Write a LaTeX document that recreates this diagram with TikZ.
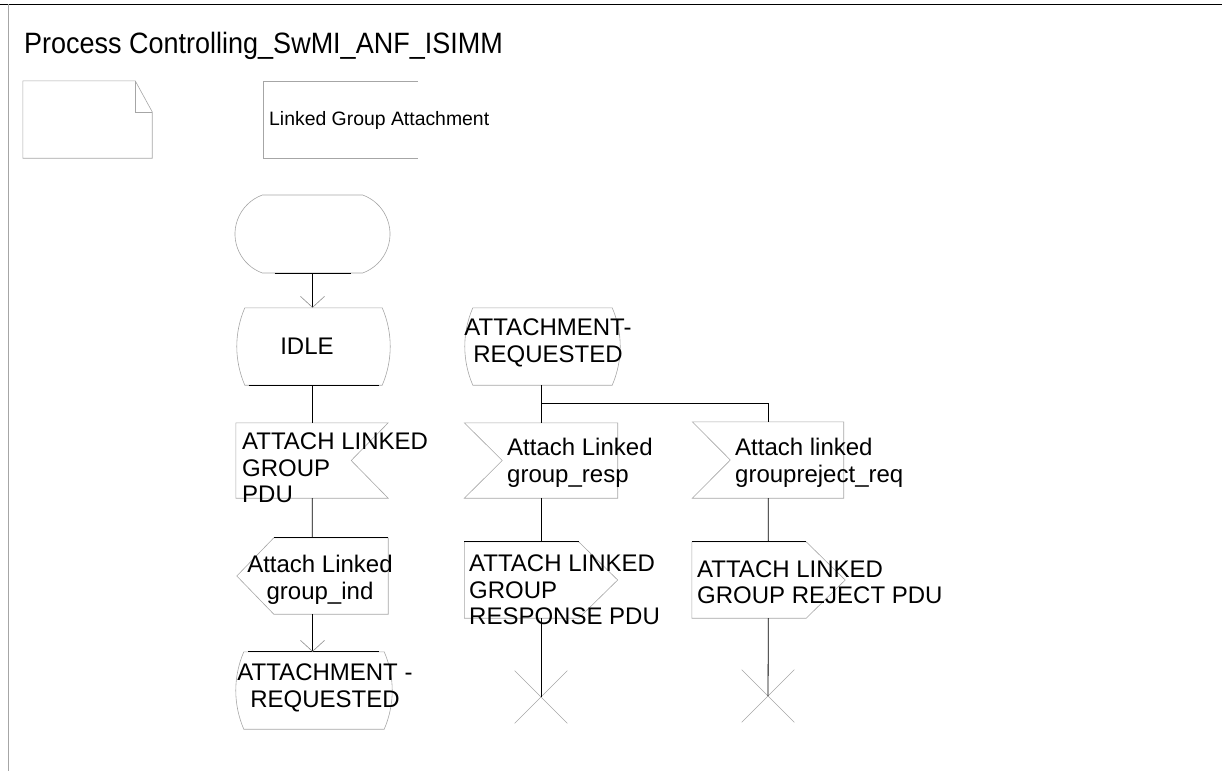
\documentclass[tikz,border=0pt]{standalone}
\usepackage{fontspec}
\setmainfont{Liberation Sans}
\usetikzlibrary{shapes.misc,arrows.meta}

\tikzset{
  sdl/.style={draw=black!35, line width=0.6pt},
  flow/.style={line width=0.8pt},
  tip/.style={-{Straight Barb[length=11pt,width=24pt,line width=0.6pt,color=black!45]}},
  box/.style={rectangle, inner sep=0pt, minimum height=76pt},
  state/.style={box, minimum width=154pt, minimum height=77pt},
  stop/.style={cross out, draw=black!35, line width=0.6pt, inner sep=0pt, minimum size=52pt},
  txt/.style={font=\fontsize{24}{26.5}\selectfont, align=left, inner sep=0pt},
}

\begin{document}
\begin{tikzpicture}[x=1pt,y=-1pt]
  \useasboundingbox (0,0) rectangle (1222,771);
  % frame
  \draw[flow] (0,4) -- (1222,4);
  \draw[sdl] (8,4) -- (8,771);
  \node[anchor=base west,inner sep=0pt,font=\fontsize{27}{30}\selectfont] (title) at (24,53) {\scalebox{1}[1.09]{Process Controlling\_SwMI\_ANF\_ISIMM}};

  % text symbol and procedure reference
  \node[box,minimum width=129pt,minimum height=77pt] (note) at (87.5,119.5) {};
  \draw[sdl] (note.north west) -- ([xshift=-17pt]note.north east) -- ([yshift=-31pt]note.north east) -- (note.south east) -- (note.south west) -- cycle;
  \draw[sdl] ([xshift=-17pt]note.north east) |- ([yshift=-31pt]note.north east);
  \node[anchor=west,inner sep=0pt,font=\fontsize{19.4}{22}\selectfont] (proc) at (269,120) {Linked Group Attachment};
  \draw[sdl] (418,81) -| (263,158) -- (418,158);

  % column 1
  \node[sdl,rounded rectangle,rounded rectangle arc length=140,inner sep=0pt,minimum width=155pt,minimum height=78pt] (start) at (312.5,234) {};
  \node[state,minimum width=153pt] (idle) at (313.5,346.5) {};
  \node[box,minimum width=152pt,minimum height=75pt] (in1) at (312,460.5) {};
  \node[box,minimum width=151pt] (out1) at (312.5,576) {};
  \node[state,minimum width=156pt] (att1) at (314,690.5) {};

  % column 2
  \node[state,minimum width=155pt] (att2) at (542.5,346.5) {};
  \node[box,minimum width=153pt,minimum height=75pt] (in2) at (541,460.5) {};
  \node[box,minimum width=153pt] (out2) at (541,580) {};
  \node[stop] (stop2) at (541,697) {};
  \coordinate (split) at (541,403);

  % column 3
  \node[box,minimum width=151pt] (in3) at (768,460) {};
  \node[box,minimum width=153pt] (out3) at (768.5,580) {};
  \node[stop] (stop3) at (768,696) {};

  % symbol outlines
  \foreach \n in {idle,att1,att2}
    \draw[sdl] ([xshift=8pt]\n.north west) -- ([xshift=-8pt]\n.north east)
      .. controls ([xshift=2.7pt,yshift=-25pt]\n.north east) and ([xshift=2.7pt,yshift=25pt]\n.south east) .. ([xshift=-8pt]\n.south east)
      -- ([xshift=8pt]\n.south west)
      .. controls ([xshift=-2.7pt,yshift=25pt]\n.south west) and ([xshift=-2.7pt,yshift=-25pt]\n.north west) .. cycle;
  \draw[sdl] (in1.north west) -- (in1.north east) -- ([xshift=-37pt]in1.east) -- (in1.south east) -- (in1.south west) -- cycle;
  \draw[sdl] ([xshift=37pt]out1.north west) -- (out1.north east) -- (out1.south east) -- ([xshift=37pt]out1.south west) -- (out1.west) -- cycle;
  \foreach \n in {in2,in3}
    \draw[sdl] (\n.north east) -- (\n.north west) -- ([xshift=38pt]\n.west) -- (\n.south west) -- (\n.south east) -- cycle;
  \foreach \n in {out2,out3}
    \draw[sdl] (\n.north west) -- ([xshift=-39pt]\n.north east) -- (\n.east) -- ([xshift=-39pt]\n.south east) -- (\n.south west) -- cycle;

  % dark edges
  \draw[flow] ([xshift=-38pt]start.south) -- ([xshift=38pt]start.south);
  \draw[flow] ([xshift=-65pt]idle.south) -- ([xshift=65pt]idle.south);
  \draw[flow] ([xshift=-66pt]att1.north) -- ([xshift=65pt]att1.north);
  \draw[flow] ([xshift=37pt]out1.north west) -- (out1.north east);
  \foreach \n in {out2,out3}
    \draw[flow] (\n.north west) -- ([xshift=-39pt]\n.north east);

  % texts
  \node[txt] (t-idle) at (307,346.5) {IDLE};
  \node[txt,anchor=west] (t-in1) at (242,468) {ATTACH LINKED\\GROUP\\PDU};
  \node[txt,align=center] (t-out1) at (320,580) {Attach Linked\\group\_ind};
  \node[txt,align=center] (t-att1) at (325,688) {ATTACHMENT -\\REQUESTED};
  \node[txt,align=center] (t-att2) at (548,343) {ATTACHMENT-\\REQUESTED};
  \node[txt,anchor=west] (t-in2) at (507,463) {Attach Linked\\group\_resp};
  \node[txt,anchor=west] (t-out2) at (469,590) {ATTACH LINKED\\GROUP\\RESPONSE PDU};
  \node[txt,anchor=west] (t-in3) at (735,463) {Attach linked\\groupreject\_req};
  \node[txt,anchor=west] (t-out3) at (697,582) {ATTACH LINKED\\GROUP REJECT PDU};

  % connectors
  \draw[flow,tip] (start) -- (idle.north -| start);
  \draw[flow] (idle.south -| in1) -- (in1);
  \draw[flow] (in1) -- (out1);
  \draw[flow,tip] (out1) -- (att1.north -| out1);
  \draw[flow] (att2.south -| in2) -- (in2);
  \draw[flow] (split) -| (in3);
  \draw[flow] (in2) -- (out2);
  \draw[flow] (out2) -- (stop2.center);
  \draw[flow] (in3) -- (out3);
  \draw[flow] (out3) -- (stop3.center);
\end{tikzpicture}
\end{document}
